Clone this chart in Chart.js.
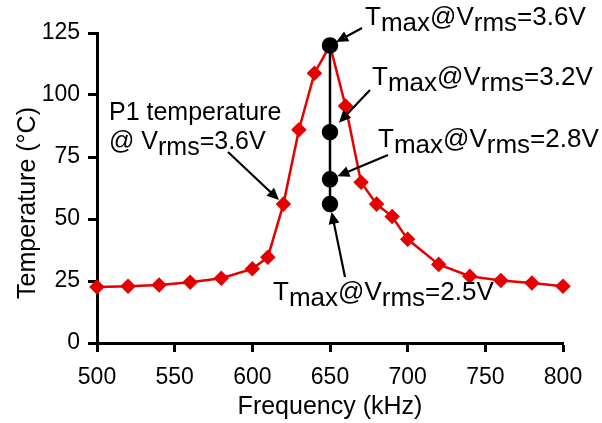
<!DOCTYPE html>
<html>
<head>
<meta charset="utf-8">
<script src="https://cdn.jsdelivr.net/npm/chart.js@4.4.1/dist/chart.umd.min.js"></script>
<style>
  body { margin: 0; background: #fff; }
  canvas { display: block; }
</style>
</head>
<body>
<canvas id="tempChart" width="602" height="423"></canvas>
<script>
// P1 temperature vs drive frequency at Vrms = 3.6 V
const freqs = [500, 520, 540, 560, 580, 600, 610, 620, 630, 640, 650, 660, 670, 680, 690, 700, 720, 740, 760, 780, 800];
const p1Temps = [22.6, 22.9, 23.4, 24.5, 26.1, 29.9, 34.6, 56.0, 86.0, 108.8, 120.0, 95.6, 64.8, 56.0, 51.0, 41.8, 31.7, 26.9, 25.2, 24.2, 22.9];

// Tmax at resonance for several drive voltages
const tmaxFreq = 650;
const tmaxVolts = ["3.6", "3.2", "2.8", "2.5"];
const tmaxTemps = [120, 85, 66, 56];

const xTicks = [500, 550, 600, 650, 700, 750, 800];
const yTicks = [0, 25, 50, 75, 100, 125];

const FONT = '"Liberation Sans", Arial, Helvetica, sans-serif';
const RED = "#e60000";

// text pieces: [string, isSubscript]
const notes = [
  {lines: [[["P1 temperature", 0]], [["@ V", 0], ["rms", 1], ["=3.6V", 0]]],
   x: 109, y: [120, 149], size: 25, tail: [228, 152], at: [620, p1Temps[7]], gap: 6},
  {lines: [[["T", 0], ["max", 1], ["@V", 0], ["rms", 1], ["=" + tmaxVolts[0] + "V", 0]]],
   x: 365, y: [25], size: 26, tail: [362, 28], at: [tmaxFreq, tmaxTemps[0]], gap: 7},
  {lines: [[["T", 0], ["max", 1], ["@V", 0], ["rms", 1], ["=" + tmaxVolts[1] + "V", 0]]],
   x: 372, y: [85], size: 26, tail: [370, 90], at: [tmaxFreq, tmaxTemps[1]], gap: 13},
  {lines: [[["T", 0], ["max", 1], ["@V", 0], ["rms", 1], ["=" + tmaxVolts[2] + "V", 0]]],
   x: 378, y: [147], size: 26, tail: [388, 155], at: [tmaxFreq, tmaxTemps[2]], gap: 8},
  {lines: [[["T", 0], ["max", 1], ["@V", 0], ["rms", 1], ["=" + tmaxVolts[3] + "V", 0]]],
   x: 273, y: [300], size: 26, tail: [345, 277], at: [tmaxFreq, tmaxTemps[3]], gap: 8}
];

function drawRich(ctx, parts, x, y, size) {
  ctx.font = size + "px " + FONT;
  let cx = x;
  parts.forEach(([txt, sub]) => {
    ctx.fillText(txt, cx, sub ? y + 6 : y);
    cx += ctx.measureText(txt).width;
  });
}

function drawArrow(ctx, x0, y0, x1, y1) {
  const ang = Math.atan2(y1 - y0, x1 - x0);
  const len = 12, half = 5.5;
  ctx.beginPath();
  ctx.moveTo(x0, y0);
  ctx.lineTo(x1 - Math.cos(ang) * len * 0.8, y1 - Math.sin(ang) * len * 0.8);
  ctx.stroke();
  ctx.beginPath();
  ctx.moveTo(x1, y1);
  ctx.lineTo(x1 - Math.cos(ang) * len - Math.sin(ang) * half, y1 - Math.sin(ang) * len + Math.cos(ang) * half);
  ctx.lineTo(x1 - Math.cos(ang) * len + Math.sin(ang) * half, y1 - Math.sin(ang) * len - Math.cos(ang) * half);
  ctx.closePath();
  ctx.fill();
}

const notesPlugin = {
  id: "notes",
  afterDraw(chart) {
    const {ctx, scales: {x, y}} = chart;
    ctx.save();
    ctx.fillStyle = "#000";
    ctx.strokeStyle = "#000";
    ctx.lineWidth = 2.2;
    ctx.textBaseline = "alphabetic";
    ctx.textAlign = "left";
    notes.forEach(n => {
      n.lines.forEach((parts, i) => drawRich(ctx, parts, n.x, n.y[i], n.size));
      const px = x.getPixelForValue(n.at[0]);
      const py = y.getPixelForValue(n.at[1]);
      const d = Math.hypot(px - n.tail[0], py - n.tail[1]);
      const tx = px - (px - n.tail[0]) / d * n.gap;
      const ty = py - (py - n.tail[1]) / d * n.gap;
      drawArrow(ctx, n.tail[0], n.tail[1], tx, ty);
    });

    // axis titles
    ctx.font = "25px " + FONT;
    ctx.textAlign = "center";
    ctx.textBaseline = "middle";
    ctx.fillText("Frequency (kHz)", (x.left + x.right) / 2, 407);
    ctx.translate(28, 203);
    ctx.rotate(-Math.PI / 2);
    ctx.fillText("Temperature (°C)", 0, 0);
    ctx.restore();
  }
};

const axisGrid = {
  display: true,
  drawOnChartArea: false,
  drawTicks: true,
  tickLength: 9,
  tickWidth: 3,
  tickColor: "#000"
};

new Chart(document.getElementById("tempChart"), {
  type: "scatter",
  data: {
    datasets: [
      {
        label: "Tmax",
        data: tmaxTemps.map(t => ({x: tmaxFreq, y: t})),
        showLine: true,
        borderColor: "#000",
        backgroundColor: "#000",
        borderWidth: 2.5,
        pointRadius: 7,
        pointStyle: "circle",
        clip: false,
        order: 0
      },
      {
        label: "P1 temperature",
        data: freqs.map((f, i) => ({x: f, y: p1Temps[i]})),
        showLine: true,
        borderColor: RED,
        backgroundColor: RED,
        borderWidth: 2.5,
        pointRadius: 6,
        pointStyle: "rectRot",
        clip: false,
        order: 1
      }
    ]
  },
  options: {
    responsive: false,
    animation: false,
    layout: {padding: {top: 33, right: 39, left: 0, bottom: 0}},
    plugins: {legend: {display: false}, tooltip: {enabled: false}},
    scales: {
      x: {
        type: "linear",
        min: 500,
        max: 800,
        afterBuildTicks: s => { s.ticks = xTicks.map(v => ({value: v})); },
        afterFit: s => { s.height = 80; },
        grid: axisGrid,
        border: {display: true, color: "#000", width: 3},
        ticks: {color: "#000", padding: 12, font: {family: FONT, size: 23}, maxRotation: 0}
      },
      y: {
        min: 0,
        max: 125,
        afterBuildTicks: s => { s.ticks = yTicks.map(v => ({value: v})); },
        afterFit: s => { s.width = 97; },
        grid: axisGrid,
        border: {display: true, color: "#000", width: 3},
        ticks: {color: "#000", padding: 8, font: {family: FONT, size: 23}}
      }
    }
  },
  plugins: [notesPlugin]
});
</script>
</body>
</html>
